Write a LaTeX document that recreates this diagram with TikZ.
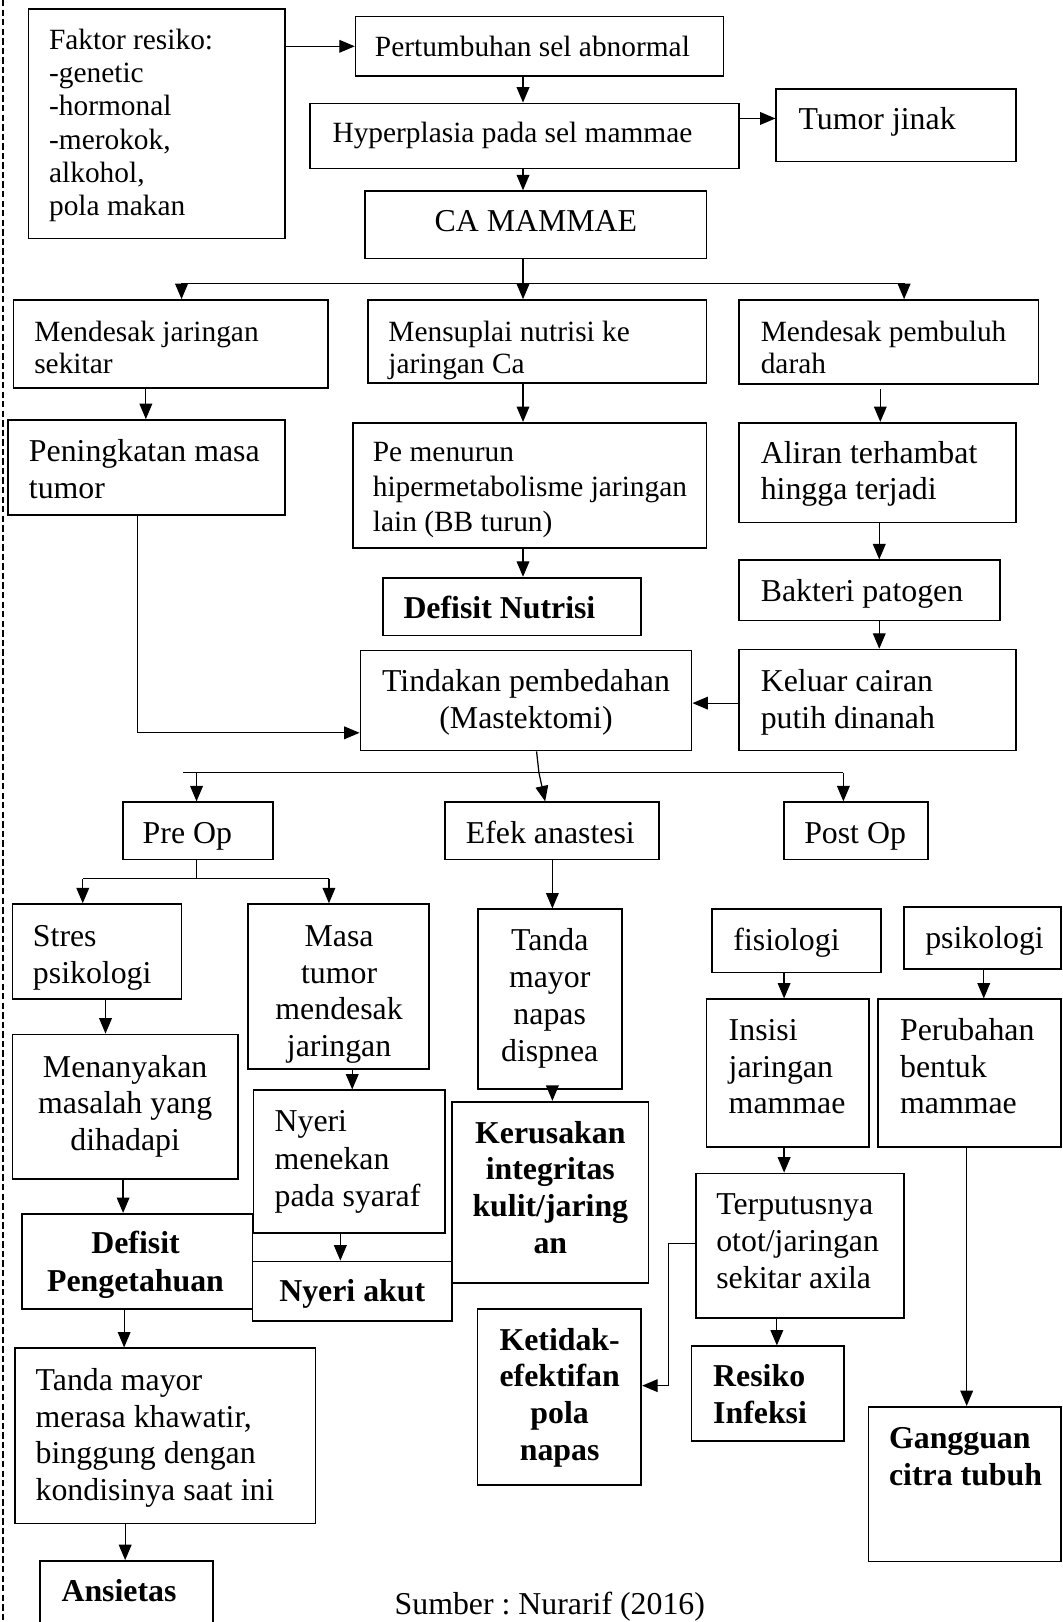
\documentclass[tikz,border=0pt]{standalone}
\usepackage{fontspec}
\setmainfont{Liberation Serif}
\usetikzlibrary{arrows.meta,fit}
\newlength\un \setlength\un{0.4225pt}
\newcommand\myst{\rule{0pt}{10pt}}
\frenchspacing
\begin{document}
\begin{tikzpicture}[x=\un,y=-\un,
  bx/.style={draw, line width=0.7pt, inner sep=0pt, rectangle},
  arr/.style={line width=0.5pt, -{Triangle[length=6.3pt,width=5.2pt]}},
  ln/.style={line width=0.5pt},
  tl/.style={anchor=north west, inner sep=0pt, align=left},
  tc/.style={anchor=north, inner sep=0pt, align=center},
  fa/.style={font=\fontsize{12}{13.6}\selectfont},
  fb/.style={font=\fontsize{13}{15}\selectfont},
  fbb/.style={font=\fontsize{13}{15}\selectfont\bfseries},
]
\useasboundingbox (0,0) rectangle (1027,1568);
\clip (0,0) rectangle (1027,1568);

% left dashed rule
\draw[line width=0.5pt, dash pattern=on 2.6pt off 1.3pt] (3,0) -- (3,1568);

% ---------- boxes ----------
\node[bx, fit={(27.5,8.7) (275.7,230.6)}] (fak) {};
\node[bx, fit={(343.8,16) (699.4,73.5)}] (pert) {};
\node[bx, fit={(300,100) (714.5,163)}] (hyp) {};
\node[bx, fit={(750.5,85.8) (982,156)}] (tum) {};
\node[bx, fit={(353,184.8) (683,250)}] (ca) {};
\node[bx, fit={(13,290) (317,375)}] (mj) {};
\node[bx, fit={(355.6,290) (683,370)}] (mn) {};
\node[bx, fit={(714.5,290) (1004,371)}] (mp) {};
\node[bx, fit={(8,406) (275.7,498)}] (pen) {};
\node[bx, fit={(341,408.7) (683,529.7)}] (pem) {};
\node[bx, fit={(714.5,408.7) (982,505)}] (ali) {};
\node[bx, fit={(370,558.4) (620,614.2)}] (dn) {};
\node[bx, fit={(714.5,541.6) (967,599.7)}] (bak) {};
\node[bx, fit={(348.4,628.7) (668.6,725.5)}] (tin) {};
\node[bx, fit={(714.5,628) (982,725.5)}] (kel) {};
\node[bx, fit={(119,775.5) (264,831)}] (pre) {};
\node[bx, fit={(430,775.5) (637,831)}] (efek) {};
\node[bx, fit={(758,775.5) (897,831)}] (post) {};
\node[bx, fit={(12,874) (175.5,966)}] (stres) {};
\node[bx, fit={(240,874) (415,1033.4)}] (masa) {};
\node[bx, fit={(462,879) (601,1053)}] (tanda) {};
\node[bx, fit={(688,879) (852,940)}] (fis) {};
\node[bx, fit={(874,877) (1026,937)}] (psi) {};
\node[bx, fit={(683,966) (840,1109)}] (ins) {};
\node[bx, fit={(849,966) (1026,1109)}] (per) {};
\node[bx, fit={(12,1000) (230,1140)}] (men) {};
\node[bx, fit={(245,1054) (430,1192)}] (nym) {};
\node[bx, fit={(437,1065) (627,1240.5)}] (ker) {};
\node[bx, fit={(672.6,1134.4) (874,1274)}] (ter) {};
\node[bx, fit={(21,1173.4) (244,1265.3)}] (dp) {};
\node[bx, fit={(244,1219.5) (437,1277)}] (na) {};
\node[bx, fit={(14.4,1303.4) (305,1472.8)}] (tmm) {};
\node[bx, fit={(39,1509) (205.6,1590)}] (ans) {};
\node[bx, fit={(461.7,1265.3) (620,1435.3)}] (ket) {};
\node[bx, fit={(668.6,1301.5) (816,1392.8)}] (res) {};
\node[bx, fit={(839.6,1360) (1026,1509.5)}] (gan) {};

% ---------- texts ----------
\node[tl, fa] (fak-t) at (47,23.5) {\myst Faktor resiko:\\-genetic\\-hormonal\\-merokok,\\alkohol,\\pola makan};
\node[tl, fa] (pert-t) at (362,30) {\myst Pertumbuhan sel abnormal};
\node[tl, fa] (hyp-t) at (321,114) {\myst Hyperplasia pada sel mammae};
\node[tl, fb] (tum-t) at (771.5,101.5) {\myst Tumor jinak};
\node[tc, fb] (ca-t) at (518,200) {\myst CA MAMMAE};
\node[tl, font=\fontsize{12}{12.9}\selectfont] (mj-t) at (32.7,306) {\myst Mendesak jaringan\\sekitar};
\node[tl, font=\fontsize{12}{12.9}\selectfont] (mn-t) at (375,306) {\myst Mensuplai nutrisi ke\\jaringan Ca};
\node[tl, font=\fontsize{12}{12.9}\selectfont] (mp-t) at (735,306) {\myst Mendesak pembuluh\\darah};
\node[tl, fb] (pen-t) at (27.5,422) {\myst Peningkatan masa\\tumor};
\node[tl, font=\fontsize{12}{14.3}\selectfont] (pem-t) at (360,422) {\myst Pe menurun\\hipermetabolisme jaringan\\lain (BB turun)};
\node[tl, fb] (ali-t) at (735,423.5) {\myst Aliran terhambat\\hingga terjadi};
\node[tl, fbb] (dn-t) at (389.6,574) {\myst Defisit Nutrisi};
\node[tl, fb] (bak-t) at (735,557.5) {\myst Bakteri patogen};
\node[tc, fb] (tin-t) at (508.5,644.5) {\myst Tindakan pembedahan\\(Mastektomi)};
\node[tl, fb] (kel-t) at (735,644.5) {\myst Keluar cairan\\putih dinanah};
\node[tl, fb] (pre-t) at (137.5,791) {\myst Pre Op};
\node[tc, fb] (efek-t) at (532,791) {\myst Efek anastesi};
\node[tl, fb] (post-t) at (777,791) {\myst Post Op};
\node[tl, fb] (stres-t) at (31.4,891) {\myst Stres\\psikologi};
\node[tc, font=\fontsize{13}{14.9}\selectfont] (masa-t) at (327.8,891) {\myst Masa\\tumor\\mendesak\\jaringan};
\node[tc, font=\fontsize{13}{15.2}\selectfont] (tanda-t) at (531.4,894.5) {\myst Tanda\\mayor\\napas\\dispnea};
\node[tl, fb] (fis-t) at (708.6,894.5) {\myst fisiologi};
\node[tl, fb] (psi-t) at (894,893) {\myst psikologi};
\node[tl, fb] (ins-t) at (704,981.5) {\myst Insisi\\jaringan\\mammae};
\node[tl, fb] (per-t) at (869.7,981.5) {\myst Perubahan\\bentuk\\mammae};
\node[tc, fb] (men-t) at (121,1017) {\myst Menanyakan\\masalah yang\\dihadapi};
\node[tl, font=\fontsize{13}{15.3}\selectfont] (nym-t) at (265,1070) {\myst Nyeri\\menekan\\pada syaraf};
\node[tc, fbb] (ker-t) at (532,1081) {\myst Kerusakan\\integritas\\kulit/jaring\\an};
\node[tl, fb] (ter-t) at (692,1150) {\myst Terputusnya\\otot/jaringan\\sekitar axila};
\node[tc, font=\fontsize{13}{15.6}\selectfont\bfseries] (dp-t) at (131,1187.5) {\myst Defisit\\Pengetahuan};
\node[tc, fbb] (na-t) at (340.5,1234) {\myst Nyeri akut};
\node[tl, fb] (tmm-t) at (34,1320) {\myst Tanda mayor\\merasa khawatir,\\binggung dengan\\kondisinya saat ini};
\node[tl, fbb] (ans-t) at (59,1524.5) {\myst Ansietas};
\node[tc, fbb] (ket-t) at (541,1281) {\myst Ketidak-\\efektifan\\pola\\napas};
\node[tl, fbb] (res-t) at (689,1316.5) {\myst Resiko\\Infeksi};
\node[tl, fbb] (gan-t) at (859,1376) {\myst Gangguan\\citra tubuh};
\node[anchor=base, inner sep=0pt, fb] (cap) at (531.5,1561) {Sumber : Nurarif (2016)};

% ---------- connectors ----------
\draw[arr] (fak.east |- pert.west) -- (pert.west);
\draw[arr] (505.6,0 |- pert.south) -- (505.6,0 |- hyp.north);
\draw[arr] (hyp.east |- 0,114.5) -- (tum.west |- 0,114.5);
\draw[arr] (505.6,0 |- hyp.south) -- (505.6,0 |- ca.north);
\coordinate (j1) at (505.6,274);
\draw[arr] (505.6,0 |- ca.south) -- (505.6,0 |- mn.north);
\draw[arr] (j1) -| (175.5,0 |- mj.north);
\draw[arr] (j1) -| (874,0 |- mp.north);
\draw[arr] (141,0 |- mj.south) -- (141,0 |- pen.north);
\draw[arr] (505.6,0 |- mn.south) -- (505.6,0 |- pem.north);
\draw[arr] (851,376) -- (851,0 |- ali.north);
\draw[arr] (133,0 |- pen.south) |- (tin.west |- 0,708.4);
\draw[arr] (505.6,0 |- pem.south) -- (505.6,0 |- dn.north);
\draw[arr] (850,0 |- ali.south) -- (850,0 |- bak.north);
\draw[arr] (850,0 |- bak.south) -- (850,0 |- kel.north);
\draw[arr] (kel.west |- 0,679.7) -- (tin.east |- 0,679.7);
% branch below surgery
\coordinate (j2) at (521,747);
\draw[ln] (518.7,0 |- tin.south) -- (j2);
\draw[ln] (176.8,747) -- (815.3,747);
\draw[arr] (j2) -- (527,0 |- efek.north);
\draw[arr] (190,747) -- (190,0 |- pre.north);
\draw[arr] (815.3,747) -- (815.3,0 |- post.north);
% pre op branch
\coordinate (j3) at (190,849.5);
\draw[ln] (190,0 |- pre.south) -- (j3);
\draw[ln] (80,849.5) -- (318,849.5);
\draw[arr] (80,849.5) -- (80,0 |- stres.north);
\draw[arr] (318,849.5) -- (318,0 |- masa.north);
\draw[arr] (534,0 |- efek.south) -- (534,0 |- tanda.north);
\draw[arr] (102,0 |- stres.south) -- (102,0 |- men.north);
\draw[arr] (340.5,0 |- masa.south) -- (340.5,0 |- nym.north);
\draw[arr] (534,0 |- tanda.south) -- (534,0 |- ker.north);
\draw[arr] (758,0 |- fis.south) -- (758,0 |- ins.north);
\draw[arr] (951,0 |- psi.south) -- (951,0 |- per.north);
\draw[arr] (758,0 |- ins.south) -- (758,0 |- ter.north);
\draw[arr] (934.5,0 |- per.south) -- (934.5,0 |- gan.north);
\draw[arr] (119,0 |- men.south) -- (119,0 |- dp.north);
\draw[arr] (329,0 |- nym.south) -- (329,0 |- na.north);
\draw[arr] (ter.west |- 0,1202.4) -- (646.4,1202.4) -- (646.4,1339.5) -- (ket.east |- 0,1339.5);
\draw[arr] (751,0 |- ter.south) -- (751,0 |- res.north);
\draw[arr] (120,0 |- dp.south) -- (120,0 |- tmm.north);
\draw[arr] (121,0 |- tmm.south) -- (121,0 |- ans.north);
\end{tikzpicture}
\end{document}
